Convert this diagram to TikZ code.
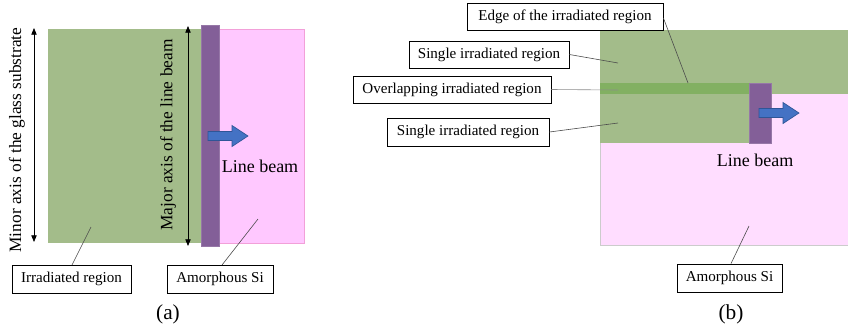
\documentclass[tikz,border=0pt]{standalone}
\usepackage{fontspec}
\setmainfont{Liberation Serif}
\usetikzlibrary{arrows.meta}
\definecolor{irrgreen}{HTML}{A3BC8A}
\definecolor{ovgreen}{HTML}{82B062}
\definecolor{beampurple}{HTML}{835F98}
\definecolor{pinkA}{HTML}{FFC8FF}
\definecolor{pinkB}{HTML}{FFDDFF}
\definecolor{arrowblue}{HTML}{4472C4}
\definecolor{arrowedge}{HTML}{2F5597}
\tikzset{
  lbl/.style={draw=black, line width=0.6pt, fill=white, inner sep=0pt, align=center,
    font=\fontsize{11.3}{13}\selectfont},
  leader/.style={draw=black!70, line width=0.45pt},
  axisarrow/.style={draw=black, line width=0.6pt, {Triangle[length=5pt,width=4pt]}-{Triangle[length=5pt,width=4pt]}},
  bigtext/.style={font=\fontsize{13.5}{15}\selectfont, inner sep=0pt},
  paneltext/.style={font=\fontsize{16}{18}\selectfont, inner sep=0pt},
  axistext/.style={font=\fontsize{13}{15}\selectfont, inner sep=0pt, rotate=90},
  beam/.style={fill=beampurple, draw=beampurple!85!white, line width=0.4pt},
  movearrow/.style={fill=arrowblue, draw=arrowedge, line width=0.5pt}
}
\begin{document}
\begin{tikzpicture}[x=0.75pt, y=-0.75pt]
\useasboundingbox (0,0) rectangle (848,326);
% ---------- panel (a) ----------
\fill[irrgreen] (48,29) rectangle (210,243);
\filldraw[fill=pinkA, draw=pinkA!80!purple, line width=0.4pt] (210,29) rectangle (304,243);
\path[beam] (201,25) rectangle (219,246);
\path[movearrow] (208,131.5) -- (232,131.5) -- (232,125.5) -- (248,136) -- (232,146.5) -- (232,140.5) -- (208,140.5) -- cycle;
\coordinate (mA1) at (34,28);
\coordinate (mA2) at (34,242);
\draw[axisarrow] (mA1) -- (mA2);
\node[axistext] at (17,140) {Minor axis of the glass substrate};
\coordinate (jA1) at (188,26);
\coordinate (jA2) at (188,246);
\draw[axisarrow] (jA1) -- (jA2);
\node[axistext] at (168,135) {Major axis of the line beam};
\node[bigtext, anchor=base] at (260,172) {Line beam};
\node[lbl, minimum width=89.25pt, minimum height=21pt] (irr) at (71.5,279) {Irradiated region};
\node[lbl, minimum width=79.5pt, minimum height=21pt] (amA) at (220,279) {Amorphous Si};
\coordinate (irrP) at (91,227);
\coordinate (amAP) at (258,219);
\draw[leader] (72,265) -- (irrP);
\draw[leader] (222,265) -- (amAP);
\node[paneltext, anchor=base] at (168,319) {(a)};
% ---------- panel (b) ----------
\filldraw[fill=pinkB, draw=black!20, line width=0.4pt] (600,93) rectangle (848,245);
\fill[irrgreen] (600,30) rectangle (848,94);
\fill[irrgreen] (600,94) rectangle (749,143);
\fill[ovgreen] (600,83) rectangle (749,94);
\path[beam] (749,83) rectangle (771,143);
\path[movearrow] (759,108.5) -- (783,108.5) -- (783,102.5) -- (799,113) -- (783,123.5) -- (783,117.5) -- (759,117.5) -- cycle;
\node[bigtext, anchor=base] at (755,166) {Line beam};
\node[lbl, minimum width=147pt, minimum height=20.25pt] (edge) at (565,16.5) {Edge of the irradiated region};
\node[lbl, minimum width=120pt, minimum height=20.25pt] (s1) at (489,54.5) {Single irradiated region};
\node[lbl, minimum width=148.5pt, minimum height=20.25pt] (ov) at (452,89.5) {Overlapping irradiated region};
\node[lbl, minimum width=121.5pt, minimum height=21pt] (s2) at (468,132) {Single irradiated region};
\node[lbl, minimum width=78.75pt, minimum height=21pt] (amB) at (729.5,278) {Amorphous Si};
\coordinate (edgeP) at (688,83);
\coordinate (s1P) at (618,63);
\coordinate (ovP) at (618,90);
\coordinate (s2P) at (618,123);
\coordinate (amBP) at (749,226);
\draw[leader] (edge.east |- 0,18) -- (edgeP);
\draw[leader] (s1.east) -- (s1P);
\draw[leader, draw=black!45] (ov.east) -- (ovP);
\draw[leader] (s2.east) -- (s2P);
\draw[leader] (amB.north -| 731,0) -- (amBP);
\node[paneltext, anchor=base] at (731,319) {(b)};
\end{tikzpicture}
\end{document}
